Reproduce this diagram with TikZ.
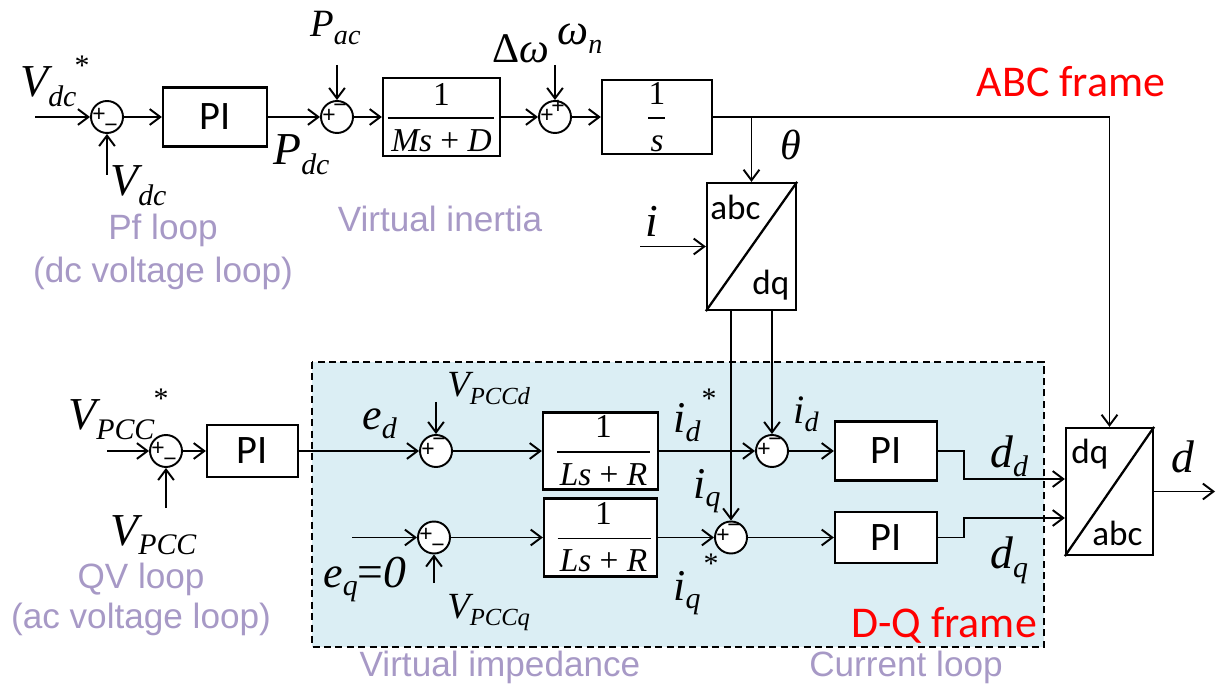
\documentclass[tikz,border=0pt]{standalone}
\usepackage{fontspec}
\usetikzlibrary{arrows.meta,calc}
\newfontfamily\calfont{Carlito}
\newfontfamily\arifont{Liberation Sans}
\newfontfamily\tnrfont{Liberation Serif}
\newcommand\fsz[1]{\fontsize{#1}{#1}\selectfont}
\newcommand\mv[4]{{\fsz{#1}\tnrfont\itshape #3\raisebox{-0.2em}{\fsz{#2}#4}}}
\newcommand\jsign[3]{\node[sgn] at ($(#1)+(#2)$) {#3};}
\definecolor{lav}{RGB}{167,153,198}
\definecolor{dqblue}{RGB}{219,238,244}
\begin{document}
\begin{tikzpicture}[x=0.02cm,y=-0.02cm,
 ln/.style={line width=1.1pt},
 arr/.style={ln,-{Straight Barb[length=6pt,width=9pt]}},
 blk/.style={draw,line width=1.3pt,inner sep=0,fill=white},
 sumj/.style={draw,circle,line width=1.1pt,minimum size=0.64cm,inner sep=0,fill=white},
 lbl/.style={inner sep=0,anchor=base west},
 sgn/.style={inner sep=0,font=\arifont\fsz{13},text height=5pt,text depth=0pt},
 purp/.style={inner sep=0,anchor=base,text=lav,font=\arifont\fsz{20}},
 redl/.style={inner sep=0,anchor=base,text=red,font=\calfont\fsz{25}},
 fr/.style={inner sep=0,anchor=base,font=\tnrfont\fsz{19}},
 pit/.style={font=\calfont\fsz{23}},
 cvt/.style={lbl,font=\calfont\fsz{20}}
]
\useasboundingbox (0,0) rectangle (1217,692);
% D-Q frame area
\draw[dashed,line width=0.8pt,fill=dqblue,dash pattern=on 4pt off 2.5pt] (312,362) rectangle (1044,647);

% ---- top row ----
\node[sumj] (s1) at (107,117) {};
\node[blk,pit,minimum width=2.08cm,minimum height=1.18cm] (pi1) at (215,117) {PI};
\node[sumj] (s2) at (337,117) {};
\node[blk,minimum width=2.34cm,minimum height=1.56cm] (ms) at (441.5,117) {};
\node[sumj] (s3) at (555,117) {};
\node[blk,minimum width=2.2cm,minimum height=1.48cm] (ints) at (657,117) {};
\node[blk,minimum width=1.78cm,minimum height=2.54cm] (abcdq) at (751.5,246.5) {};
\draw[line width=1.3pt] (abcdq.south west) -- (abcdq.north east);
\node[cvt] (tabc1) at (710,220) {abc};
\node[cvt] (tdq1) at (752,295) {dq};

% fractions
\draw[ln] ($(ms.center)+(-54,1)$) -- ($(ms.center)+(52,1)$);
\node[fr] (ms1) at ($(ms.center)+(0,-11)$) {1};
\node[fr] (ms2) at ($(ms.center)+(0,35)$) {\textit{Ms}\hspace{0.25em}+\hspace{0.25em}\textit{D}};
\draw[ln] ($(ints.center)+(-9,1)$) -- ($(ints.center)+(8,1)$);
\node[fr] (is1) at ($(ints.center)+(0,-12)$) {1};
\node[fr] (is2) at ($(ints.center)+(0,35)$) {\textit{s}};

% ---- bottom rows ----
\node[sumj] (s4) at (166,451) {};
\node[blk,pit,minimum width=1.82cm,minimum height=1.04cm] (pi2) at (252.5,451) {PI};
\node[sumj] (s5) at (436,451) {};
\node[blk,minimum width=2.3cm,minimum height=1.54cm] (lr1) at (600.5,451) {};
\node[sumj] (s7) at (772,451) {};
\node[blk,pit,minimum width=2.04cm,minimum height=1.18cm] (pi3) at (886,451) {PI};
\node[sumj] (s6) at (434,537.5) {};
\node[blk,minimum width=2.26cm,minimum height=1.56cm] (lr2) at (600.5,537.5) {};
\node[sumj] (s8) at (731,537.5) {};
\node[blk,pit,minimum width=2.04cm,minimum height=1.02cm] (pi4) at (886,537.5) {PI};
\node[blk,minimum width=1.74cm,minimum height=2.54cm] (dqabc) at (1109.5,491.5) {};
\draw[line width=1.3pt] (dqabc.south west) -- (dqabc.north east);
\node[cvt] (tdq2) at (1071,463) {dq};
\node[cvt] (tabc2) at (1092,545) {abc};

\draw[ln] ($(lr1.center)+(-43.5,1)$) -- ($(lr1.center)+(49.5,1)$);
\node[fr] (l11) at ($(lr1.center)+(3,-13)$) {1};
\node[fr] (l12) at ($(lr1.center)+(3,34)$) {\textit{Ls}\hspace{0.25em}+\hspace{0.25em}\textit{R}};
\draw[ln] ($(lr2.center)+(-43,1)$) -- ($(lr2.center)+(50,1)$);
\node[fr] (l21) at ($(lr2.center)+(3,-13)$) {1};
\node[fr] (l22) at ($(lr2.center)+(3,34)$) {\textit{Ls}\hspace{0.25em}+\hspace{0.25em}\textit{R}};

% signs
\jsign{s1}{-8,0}{+}\jsign{s1}{4,11}{−}
\jsign{s2}{-8,1}{+}\jsign{s2}{3,-9}{−}
\jsign{s3}{-8,1}{+}\jsign{s3}{3,-8}{+}
\jsign{s4}{-8,0}{+}\jsign{s4}{4,11}{−}
\jsign{s5}{-8,1}{+}\jsign{s5}{3,-9}{−}
\jsign{s6}{-8,0}{+}\jsign{s6}{4,11}{−}
\jsign{s7}{-8,1}{+}\jsign{s7}{3,-9}{−}
\jsign{s8}{-8,1}{+}\jsign{s8}{3,-9}{−}

% ---- connectors ----
\coordinate (in1) at (35,117);
\coordinate (vdcin) at (107,175);
\coordinate (pacin) at (337,65);
\coordinate (dwin) at (555,65);
\coordinate (iin) at (640,246.5);
\draw[arr] (in1) -- (s1.west);
\draw[arr] (vdcin) -- (s1.south);
\draw[arr] (s1.east) -- (pi1.west);
\draw[arr] (pi1.east) -- (s2.west);
\draw[arr] (pacin) -- (s2.north);
\draw[arr] (s2.east) -- (ms.west);
\draw[arr] (ms.east) -- (s3.west);
\draw[arr] (dwin) -- (s3.north);
\draw[arr] (s3.east) -- (ints.west);
\draw[arr] (ints.east) -| (dqabc.north);
\draw[arr] (abcdq.north |- ints.east) -- (abcdq.north);
\draw[arr] (iin) -- (abcdq.west);

\coordinate (in2) at (107,451);
\coordinate (vpccin) at (166,508);
\coordinate (vpccdin) at (436,402);
\coordinate (eqin) at (352,537.5);
\coordinate (vpccqin) at (434,583);
\coordinate (dout) at (1215,491.5);
\draw[arr] (in2) -- (s4.west);
\draw[arr] (vpccin) -- (s4.south);
\draw[arr] (s4.east) -- (pi2.west);
\draw[arr] (pi2.east) -- (s5.west);
\draw[arr] (vpccdin) -- (s5.north);
\draw[arr] (s5.east) -- (lr1.west);
\draw[arr] (lr1.east) -- (s7.west);
\draw[arr] (s7.east) -- (pi3.west);
\draw[arr] (eqin) -- (s6.west);
\draw[arr] (vpccqin) -- (s6.south);
\draw[arr] (s6.east) -- (lr2.west);
\draw[arr] (lr2.east) -- (s8.west);
\draw[arr] (s8.east) -- (pi4.west);
\draw[arr] (s7 |- abcdq.south) -- (s7.north);
\draw[arr] (s8 |- abcdq.south) -- (s8.north);
\draw[arr] (pi3.east) -- ++(26,0) |- ($(dqabc.west)+(0,-12.5)$);
\draw[arr] (pi4.east) -- ++(26,0) |- ($(dqabc.west)+(0,26.5)$);
\draw[arr] (dqabc.east) -- (dout);

% ---- math labels ----
\node[lbl] (Lvdcs) at (20,97) {\mv{26}{17}{V}{dc}};
\node[inner sep=0,font=\tnrfont\fsz{17}] (st1) at (82,66) {*};
\node[lbl] (Lvdc) at (110,196) {\mv{26}{17}{V}{dc}};
\node[lbl] (Lpdc) at (273,165) {\mv{26}{17}{P}{dc}};
\node[lbl] (Lpac) at (310,37) {\mv{22}{16}{P}{ac}};
\node[lbl] (Ldw) at (492,63) {{\tnrfont\fsz{24}Δ\itshape ω}};
\node[lbl] (Lwn) at (557,45) {\mv{25}{16}{ω}{n}};
\node[lbl] (Lth) at (780,160) {{\tnrfont\itshape\fsz{24}θ}};
\node[lbl] (Li) at (645,237) {{\tnrfont\itshape\fsz{26}i}};
\node[lbl] (Ld) at (1171,472) {{\tnrfont\itshape\fsz{26}d}};
\node[lbl] (Ldd) at (990,467) {\mv{26}{17}{d}{d}};
\node[lbl] (Ldq) at (990,568) {\mv{26}{17}{d}{q}};
\node[lbl] (Lvps) at (68,430) {\mv{26}{17}{V}{PCC}};
\node[inner sep=0,font=\tnrfont\fsz{17}] (st2) at (161,399) {*};
\node[lbl] (Lvp) at (110,545) {\mv{26}{17}{V}{PCC}};
\node[lbl] (Led) at (362,430) {\mv{25}{17}{e}{d}};
\node[lbl] (Lvpd) at (447,397) {\mv{21}{14}{V}{PCCd}};
\node[lbl] (Leq) at (323,587) {\mv{25}{17}{e}{q}{\fsz{26}\tnrfont =\itshape 0}};
\node[lbl] (Lvpq) at (447,618) {\mv{21}{14}{V}{PCCq}};
\node[lbl] (Lids) at (673,433) {\mv{25}{17}{i}{d}};
\node[inner sep=0,font=\tnrfont\fsz{17}] (st3) at (709,399) {*};
\node[lbl] (Liq) at (693,498) {\mv{25}{17}{i}{q}};
\node[lbl] (Liqs) at (673,600) {\mv{25}{17}{i}{q}};
\node[inner sep=0,font=\tnrfont\fsz{17}] (st4) at (711,564) {*};
\node[lbl] (Lid) at (793,423) {\mv{23}{16}{i}{d}};

% ---- text labels ----
\node[redl] (abcf) at (1071,97) {ABC frame};
\node[redl] (dqf) at (944,637) {D-Q frame};
\node[purp] (vi) at (440,232) {Virtual inertia};
\node[purp] (pf1) at (163,240) {Pf loop};
\node[purp] (pf2) at (163,283) {(dc voltage loop)};
\node[purp] (qv1) at (141,588) {QV loop};
\node[purp] (qv2) at (141,628) {(ac voltage loop)};
\node[purp] (vimp) at (500,676) {Virtual impedance};
\node[purp] (cl) at (906,676) {Current loop};
\end{tikzpicture}
\end{document}
